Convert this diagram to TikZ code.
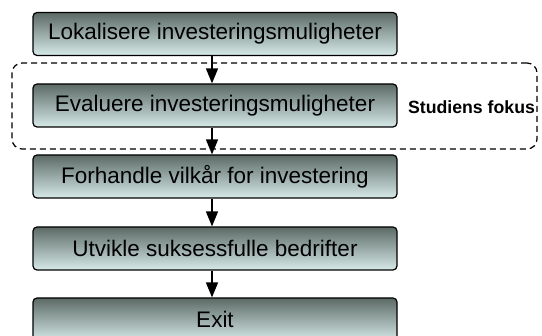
\documentclass[tikz,border=0pt]{standalone}
\usepackage{fontspec}
\setmainfont{Liberation Sans}
\usetikzlibrary{arrows.meta}
\definecolor{boxtop}{RGB}{92,106,102}
\definecolor{boxmid}{RGB}{170,190,186}
\definecolor{boxbot}{RGB}{214,234,232}
\begin{document}
\begin{tikzpicture}[x=1pt, y=-1pt,
		stage/.style={draw, rounded corners=4pt, line width=1.2pt, top color=boxtop, middle color=boxmid, bottom color=boxbot, minimum width=364pt, minimum height=43pt, inner sep=0pt, font=\fontsize{22.5}{26}\selectfont},
		flow/.style={line width=1.5pt, -{Triangle[length=15pt, width=12pt]}}]
		\clip (0,0) rectangle (542,336);

		% focus area
		\node[draw, dashed, dash pattern=on 6pt off 4pt, line width=1.2pt, rounded corners=10pt, minimum width=525pt, minimum height=86pt] (focus) at (274.5,106) {};
		\node[font=\fontsize{17.7}{20}\selectfont\bfseries] (focuslbl) at (471.5,107) {Studiens fokus};

		\node[stage] (lok) at (215,34) {Lokalisere investeringsmuligheter};
		\node[stage] (eval) at (215,105.5) {Evaluere investeringsmuligheter};
		\node[stage] (forh) at (215,176.5) {Forhandle vilkår for investering};
		\node[stage] (utv) at (215,248.5) {Utvikle suksessfulle bedrifter};
		\node[stage] (exit) at (215,319.5) {Exit};

		\draw[flow] ([xshift=-3pt]lok.south) -- ([xshift=-3pt]eval.north);
		\draw[flow] ([xshift=-3pt]eval.south) -- ([xshift=-3pt]forh.north);
		\draw[flow] ([xshift=-3pt]forh.south) -- ([xshift=-3pt]utv.north);
		\draw[flow] ([xshift=-3pt]utv.south) -- ([xshift=-3pt]exit.north);

	\end{tikzpicture}
\end{document}
